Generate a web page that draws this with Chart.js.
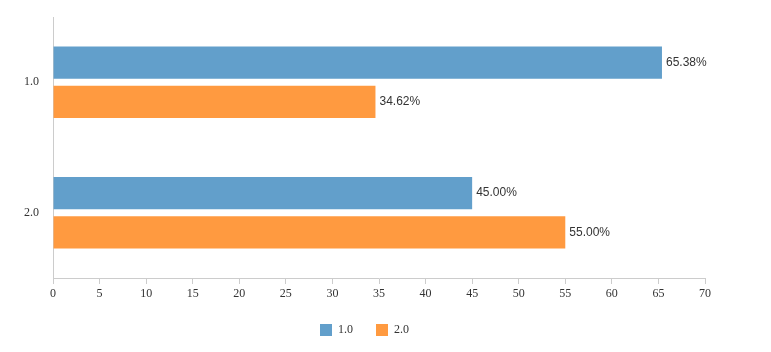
<!DOCTYPE html>
<html lang="en">
<head>
    <meta charset="UTF-8">
    <title>Bar Chart</title>
    <script src="https://cdn.jsdelivr.net/npm/chart.js"></script>
    <style>
        html, body { margin: 0; padding: 0; background: #fff; }
        .wrap { width: 771px; height: 352px; }
    </style>
</head>
<body>
    <div class="wrap"><canvas id="barChart" width="771" height="352"></canvas></div>

    <script>
        // data
        const categories = ['1.0', '2.0'];
        const seriesNames = ['1.0', '2.0'];
        const series1 = [65.38, 45.00];
        const series2 = [34.62, 55.00];
        const xTicks = [0, 5, 10, 15, 20, 25, 30, 35, 40, 45, 50, 55, 60, 65, 70];

        const colors = ['#629fcb', '#ff9a40'];

        // draws "xx.xx%" next to the end of each bar
        const valueLabels = {
            id: 'valueLabels',
            afterDatasetsDraw(chart) {
                const ctx = chart.ctx;
                ctx.save();
                ctx.font = '12px "Liberation Sans", Arial, sans-serif';
                ctx.fillStyle = '#333';
                ctx.textBaseline = 'middle';
                ctx.textAlign = 'left';
                chart.data.datasets.forEach((ds, i) => {
                    chart.getDatasetMeta(i).data.forEach((bar, j) => {
                        ctx.fillText(ds.data[j].toFixed(2) + '%', bar.x + 4, bar.y);
                    });
                });
                ctx.restore();
            }
        };

        // legend in the original sits a bit right of the canvas centre
        const legendShift = {
            id: 'legendShift',
            afterLayout(chart) {
                if (chart.legend) {
                    chart.legend.left += 12;
                    chart.legend.right += 12;
                }
            }
        };

        const ctx = document.getElementById('barChart').getContext('2d');
        new Chart(ctx, {
            type: 'bar',
            data: {
                labels: categories,
                datasets: [
                    { label: seriesNames[0], data: series1, backgroundColor: colors[0] },
                    { label: seriesNames[1], data: series2, backgroundColor: colors[1] }
                ]
            },
            options: {
                indexAxis: 'y',
                responsive: false,
                animation: false,
                categoryPercentage: 0.6,
                barPercentage: 0.82,
                layout: { padding: { left: 0, right: 66, top: 17, bottom: 6 } },
                plugins: {
                    legend: {
                        position: 'bottom',
                        labels: {
                            boxWidth: 12,
                            boxHeight: 12,
                            padding: 23,
                            color: '#333',
                            font: { family: '"Liberation Serif", "Times New Roman", serif', size: 12 }
                        }
                    },
                    tooltip: { enabled: false }
                },
                scales: {
                    x: {
                        min: 0,
                        max: 70,
                        afterBuildTicks: (scale) => { scale.ticks = xTicks.map(v => ({ value: v })); },
                        afterFit: (scale) => { scale.height = 23; },
                        grid: { drawOnChartArea: false, tickLength: 6, color: '#ccc' },
                        border: { color: '#ccc' },
                        ticks: {
                            color: '#333',
                            padding: 3,
                            font: { family: '"Liberation Serif", "Times New Roman", serif', size: 12 }
                        }
                    },
                    y: {
                        afterFit: (scale) => {
                            scale.width = 53;
                            scale.paddingTop = 0;
                            scale.paddingBottom = 0;
                        },
                        grid: { drawOnChartArea: false, drawTicks: false },
                        border: { color: '#ccc' },
                        ticks: {
                            color: '#333',
                            padding: 14,
                            font: { family: '"Liberation Serif", "Times New Roman", serif', size: 12 }
                        }
                    }
                }
            },
            plugins: [valueLabels, legendShift]
        });
    </script>
</body>
</html>
